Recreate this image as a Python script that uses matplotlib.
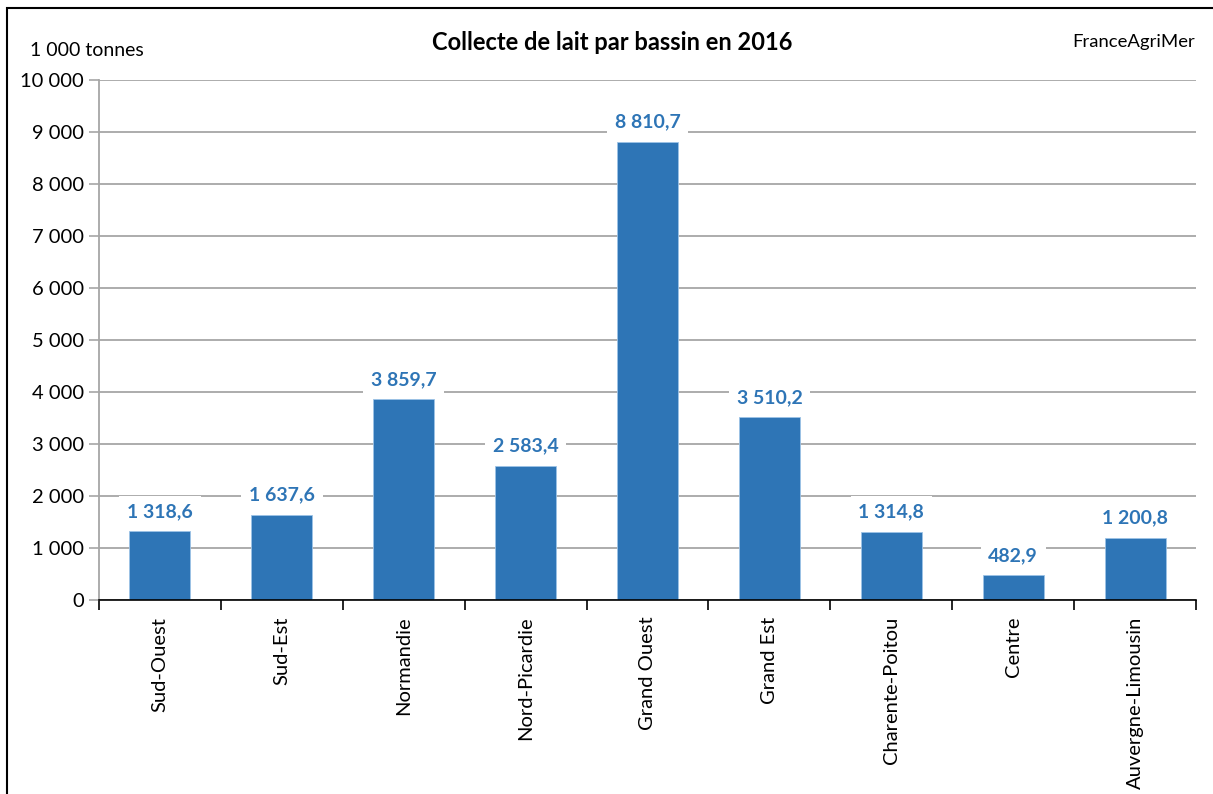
import matplotlib.pyplot as plt
from matplotlib.patches import Rectangle

plt.rcParams['font.family'] = ['Lato', 'DejaVu Sans']

bassins = ['Sud-Ouest', 'Sud-Est', 'Normandie', 'Nord-Picardie', 'Grand Ouest',
           'Grand Est', 'Charente-Poitou', 'Centre', 'Auvergne-Limousin']
collecte = [1318.6, 1637.6, 3859.7, 2583.4, 8810.7, 3510.2, 1314.8, 482.9, 1200.8]
yticks = list(range(0, 10001, 1000))

def fr(v, dec=0):
    s = f"{v:,.{dec}f}"
    return s.replace(',', ' ').replace('.', ',')

W, H = 1213, 794
fig = plt.figure(figsize=(W / 100, H / 100), dpi=100)
ax = fig.add_axes([99 / W, 1 - 600 / H, (1196 - 99) / W, (600 - 80) / H])

# outer chart frame (only left/top visible in the reference)
fig.patches.append(Rectangle((7 / W, -0.1), 1.2, 1 - 8 / H + 0.1, transform=fig.transFigure,
                             fill=False, edgecolor='black', linewidth=1.5))

blue = '#2E75B6'
x = range(len(bassins))
ax.bar(x, collecte, width=0.5, color=blue, edgecolor='#9DC3E6', linewidth=0.6, zorder=2)

for i, v in enumerate(collecte):
    ax.annotate(fr(v, 1), (i, v), xytext=(0, 8), textcoords='offset points',
                ha='center', va='bottom', fontsize=14, fontweight='bold', color=blue,
                bbox=dict(boxstyle='square,pad=0.4', fc='white', ec='none'), zorder=3)

ax.set_xlim(-0.5, len(bassins) - 0.5)
ax.set_ylim(0, 10000)
ax.set_yticks(yticks)
ax.set_yticklabels([fr(t) for t in yticks], fontsize=14.5)
ax.yaxis.grid(True, color='#A6A6A6', linewidth=1.3, zorder=0)
ax.set_axisbelow(True)

ax.set_xticks(list(x))
ax.set_xticklabels(bassins, rotation=90, fontsize=14.5)
ax.tick_params(axis='x', length=0, pad=12)
ax.set_xticks([i - 0.5 for i in range(len(bassins) + 1)], minor=True)
ax.tick_params(axis='x', which='minor', length=7, width=1.2, color='black')
ax.tick_params(axis='y', length=7, width=1.2, color='#A6A6A6', pad=4)

for s in ['top', 'right']:
    ax.spines[s].set_visible(False)
ax.spines['left'].set_color('#A6A6A6')
ax.spines['left'].set_linewidth(1.3)
ax.spines['bottom'].set_color('black')
ax.spines['bottom'].set_linewidth(1.2)

fig.text(612 / W, 1 - 42 / H, 'Collecte de lait par bassin en 2016', ha='center', va='center',
         fontsize=17, fontweight='bold')
fig.text(30 / W, 1 - 50 / H, '1 000 tonnes', ha='left', va='center', fontsize=14)
fig.text(1195 / W, 1 - 42 / H, 'FranceAgriMer', ha='right', va='center', fontsize=13.3)

fig.savefig('out.png', dpi=100)
